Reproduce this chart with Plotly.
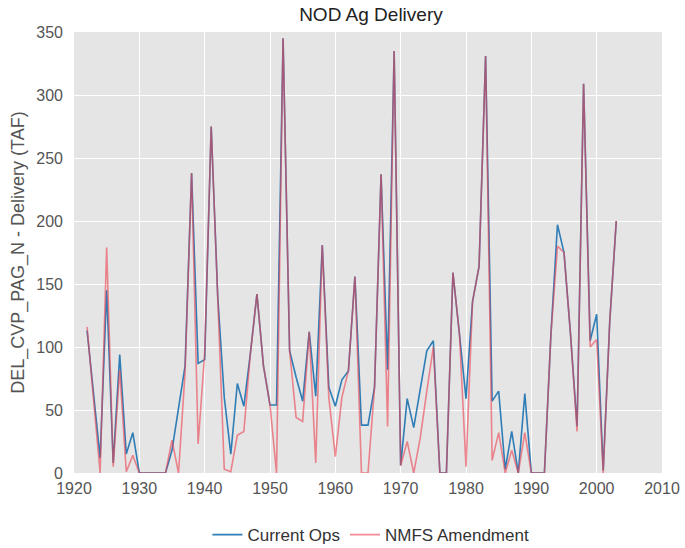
import plotly.graph_objects as go

years = list(range(1922, 2004))

current_ops = [
    113, 60, 12, 145, 8, 94, 15, 32, 0, 0,
    0, 0, 0, 18, 50, 85, 238, 87, 90, 275,
    140, 60, 15, 71, 53, 95, 142, 85, 54, 54,
    345, 97, 76, 57, 112, 61, 181, 68, 53, 74,
    81, 156, 38, 38, 68, 237, 82, 335, 6, 59,
    36, 65, 97, 105, 0, 0, 159, 110, 59, 136,
    164, 331, 57, 65, 3, 33, 0, 63, 0, 0,
    0, 110, 197, 175, 110, 37, 309, 105, 126, 2,
    120, 200,
]

nmfs_amendment = [
    116, 55, 0, 179, 5, 82, 1, 14, 0, 0,
    0, 0, 0, 26, 0, 80, 238, 23, 95, 275,
    140, 3, 1, 30, 33, 95, 142, 85, 54, 0,
    345, 97, 44, 41, 112, 8, 181, 60, 13, 60,
    81, 156, 0, 0, 68, 237, 37, 335, 6, 25,
    0, 28, 65, 100, 0, 0, 159, 110, 5, 136,
    164, 331, 10, 32, 0, 18, 0, 32, 0, 0,
    0, 110, 180, 175, 110, 33, 309, 100, 106, 0,
    120, 200,
]

x_ticks = [1920, 1930, 1940, 1950, 1960, 1970, 1980, 1990, 2000, 2010]
y_ticks = [0, 50, 100, 150, 200, 250, 300, 350]

FONT = "Liberation Sans, Arial, sans-serif"

fig = go.Figure()
fig.add_trace(go.Scatter(
    x=years, y=current_ops, mode="lines", name="Current Ops",
    line=dict(color="#2F7DB6", width=1.6),
))
fig.add_trace(go.Scatter(
    x=years, y=nmfs_amendment, mode="lines", name="NMFS Amendment",
    line=dict(color="rgba(236,70,84,0.62)", width=1.6),
))

fig.update_layout(
    width=685, height=548,
    margin=dict(l=74, r=23, t=32, b=75, autoexpand=False),
    paper_bgcolor="white",
    plot_bgcolor="#E5E5E5",
    font=dict(family=FONT, color="#555555", size=16),
    title=dict(
        text="NOD Ag Delivery", x=0.505, xref="paper", xanchor="center",
        y=1 - 14 / 548, yref="container", yanchor="middle",
        font=dict(size=19, color="#222222", family=FONT),
    ),
    showlegend=True,
    legend=dict(
        orientation="h", x=0.505, xanchor="center", y=-0.1, yanchor="top",
        font=dict(size=17, color="#333333", family=FONT),
        bgcolor="rgba(0,0,0,0)",
    ),
    xaxis=dict(
        range=[1920, 2010], tickvals=x_ticks, ticktext=[str(v) for v in x_ticks],
        showgrid=True, gridcolor="white", gridwidth=1.2, zeroline=False,
        showline=False, ticks="", ticklabelstandoff=4,
        tickfont=dict(size=16, color="#555555"),
    ),
    yaxis=dict(
        range=[0, 350], tickvals=y_ticks, ticktext=[str(v) for v in y_ticks],
        showgrid=True, gridcolor="white", gridwidth=1.2, zeroline=False,
        showline=False, ticks="", ticklabelstandoff=10,
        tickfont=dict(size=16, color="#555555"),
        title=dict(text="DEL_CVP_PAG_N - Delivery (TAF)", standoff=6,
                   font=dict(size=18, color="#555555")),
        automargin=False,
    ),
)

fig.write_html(
    "out.html",
    config={"displayModeBar": False},
    post_script="document.body.style.margin='0';",
)
